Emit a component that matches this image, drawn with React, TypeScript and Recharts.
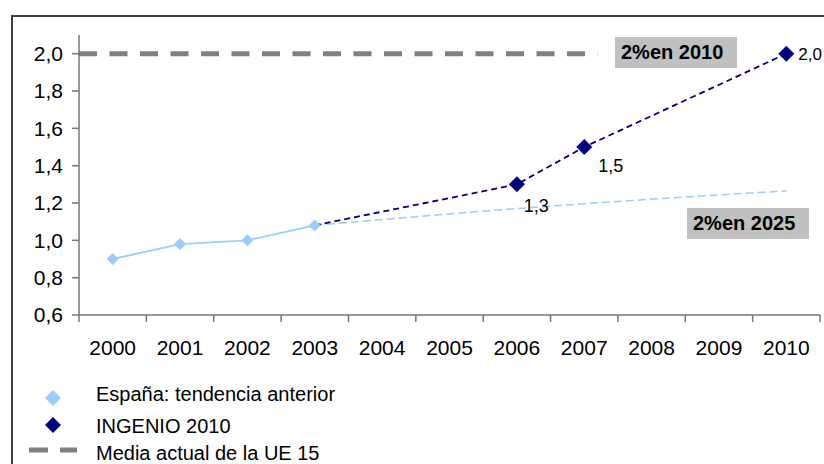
import { LabelList, Line, LineChart, XAxis, YAxis } from "recharts";

const FONT = '"Liberation Sans", Arial, sans-serif';

const YEARS = [2000, 2001, 2002, 2003, 2004, 2005, 2006, 2007, 2008, 2009, 2010];
const Y_TICKS = [0.6, 0.8, 1.0, 1.2, 1.4, 1.6, 1.8, 2.0];

// España: histórico 2000-2003
const ESPANA = [
  { year: 2000, v: 0.9 },
  { year: 2001, v: 0.98 },
  { year: 2002, v: 1.0 },
  { year: 2003, v: 1.08 },
];

// tendencia anterior prolongada hasta 2010
const TENDENCIA = [
  { year: 2003, v: 1.08 },
  { year: 2006, v: 1.17 },
  { year: 2010, v: 1.265 },
];

// objetivos INGENIO 2010
const INGENIO = [
  { year: 2003, v: 1.08 },
  { year: 2006, v: 1.3 },
  { year: 2007, v: 1.5 },
  { year: 2010, v: 2.0 },
];

// media UE 15
const UE15 = [
  { year: 1999.5, v: 2.0 },
  { year: 2007.2, v: 2.0 },
];

const W = 824;
const H = 464;
const PLOT_LEFT = 79;
const PLOT_RIGHT = 820;
const PLOT_TOP = 35;
const PLOT_BOTTOM = 315;
const BAND = (PLOT_RIGHT - PLOT_LEFT) / YEARS.length;

const LIGHT = "#99ccff";
const NAVY = "#000080";
const AXIS = "#767676";

const fmt = (v: number) => v.toFixed(1).replace(".", ",");

const edges = [...YEARS.map((y) => y - 0.5), YEARS[YEARS.length - 1] + 0.5];

function Diamond({ cx, cy, r, fill }: { cx: number; cy: number; r: number; fill: string }) {
  return (
    <polygon
      points={`${cx},${cy - r} ${cx + r},${cy} ${cx},${cy + r} ${cx - r},${cy}`}
      fill={fill}
    />
  );
}

function YearTick(props: any) {
  const { x, y, payload } = props;
  const v = payload.value as number;
  const last = v > YEARS[YEARS.length - 1];
  return (
    <g>
      <line x1={x} x2={x} y1={y} y2={y + 7} stroke={AXIS} strokeWidth={1.5} />
      {!last && (
        <text x={x + BAND / 2} y={y + 40} textAnchor="middle" fontSize={21} fontFamily={FONT} fill="#000">
          {Math.round(v + 0.5)}
        </text>
      )}
    </g>
  );
}

function IngenioLabel(props: any) {
  const { x, y, value, index } = props;
  if (index === 0) return null;
  const isLast = index === INGENIO.length - 1;
  const dx = isLast ? 12 : index === 1 ? 7 : 14;
  const dy = isLast ? 6 : index === 1 ? 28 : 25;
  return (
    <text x={x + dx} y={y + dy} fontSize={isLast ? 17 : 18} fontFamily={FONT} fill="#000">
      {fmt(value)}
    </text>
  );
}

function Box({ left, top, text }: { left: number; top: number; text: string }) {
  return (
    <div
      style={{
        position: "absolute",
        left,
        top,
        width: 122,
        height: 31,
        background: "#c0c0c0",
        fontFamily: FONT,
        fontWeight: "bold",
        fontSize: 20,
        lineHeight: "31px",
        paddingLeft: 6,
        boxSizing: "border-box",
        color: "#000",
        whiteSpace: "nowrap",
      }}
    >
      {text}
    </div>
  );
}

function Legend() {
  return (
    <svg width={400} height={100} style={{ position: "absolute", left: 0, top: 370 }}>
      <polygon points="53,20 61,28 53,36 45,28" fill={LIGHT} />
      <text x={96} y={31} fontSize={20} fontFamily={FONT} fill="#000">
        España: tendencia anterior
      </text>
      <polygon points="53,47 61,55 53,63 45,55" fill={NAVY} />
      <text x={96} y={63} fontSize={20} fontFamily={FONT} fill="#000">
        INGENIO 2010
      </text>
      <line x1={29} x2={77} y1={80} y2={80} stroke="#808080" strokeWidth={5} strokeDasharray="19 12" />
      <text x={96} y={90} fontSize={20} fontFamily={FONT} fill="#000">
        Media actual de la UE 15
      </text>
    </svg>
  );
}

export default function App() {
  return (
    <div style={{ position: "absolute", left: 0, top: 0, width: W, height: H, overflow: "hidden", background: "#fff" }}>
      <div
        style={{
          position: "absolute",
          left: 11,
          top: 15,
          width: W,
          height: H,
          borderLeft: "2px solid #404040",
          borderTop: "2px solid #404040",
        }}
      />
      <div style={{ position: "absolute", left: 0, top: 0 }}>
        <LineChart
          width={W}
          height={H}
          margin={{ top: PLOT_TOP, right: W - PLOT_RIGHT, bottom: H - PLOT_BOTTOM - 40, left: 0 }}
        >
          <XAxis
            dataKey="year"
            type="number"
            domain={[edges[0], edges[edges.length - 1]]}
            ticks={edges}
            interval={0}
            height={40}
            tickLine={false}
            tickSize={0}
            tickMargin={0}
            tick={<YearTick />}
            axisLine={{ stroke: AXIS, strokeWidth: 1.5 }}
            allowDuplicatedCategory={false}
          />
          <YAxis
            type="number"
            domain={[0.6, 2.1]}
            ticks={Y_TICKS}
            interval={0}
            width={PLOT_LEFT}
            tickSize={7}
            tickMargin={9}
            tickFormatter={fmt}
            tick={{ fill: "#000", fontSize: 21, fontFamily: FONT }}
            tickLine={{ stroke: AXIS, strokeWidth: 1.5 }}
            axisLine={{ stroke: AXIS, strokeWidth: 1.5 }}
            allowDataOverflow
          />
          <Line
            data={UE15}
            dataKey="v"
            stroke="#808080"
            strokeWidth={5}
            strokeDasharray="18 12.5"
            dot={false}
            activeDot={false}
            isAnimationActive={false}
          />
          <Line
            data={TENDENCIA}
            dataKey="v"
            type="monotone"
            stroke={LIGHT}
            strokeWidth={1.5}
            strokeDasharray="8 4"
            dot={false}
            activeDot={false}
            isAnimationActive={false}
          />
          <Line
            data={INGENIO}
            dataKey="v"
            stroke={NAVY}
            strokeWidth={1.8}
            strokeDasharray="6 4"
            dot={(p: any) =>
              p.index === 0 ? <g key={p.index} /> : <Diamond key={p.index} cx={p.cx} cy={p.cy} r={8} fill={NAVY} />
            }
            activeDot={false}
            isAnimationActive={false}
          >
            <LabelList dataKey="v" content={<IngenioLabel />} />
          </Line>
          <Line
            data={ESPANA}
            dataKey="v"
            stroke={LIGHT}
            strokeWidth={1.8}
            dot={(p: any) => <Diamond key={p.index} cx={p.cx} cy={p.cy} r={6} fill={LIGHT} />}
            activeDot={false}
            isAnimationActive={false}
          />
        </LineChart>
      </div>
      <Box left={615} top={37} text="2%en 2010" />
      <Box left={687} top={208} text="2%en 2025" />
      <Legend />
    </div>
  );
}
